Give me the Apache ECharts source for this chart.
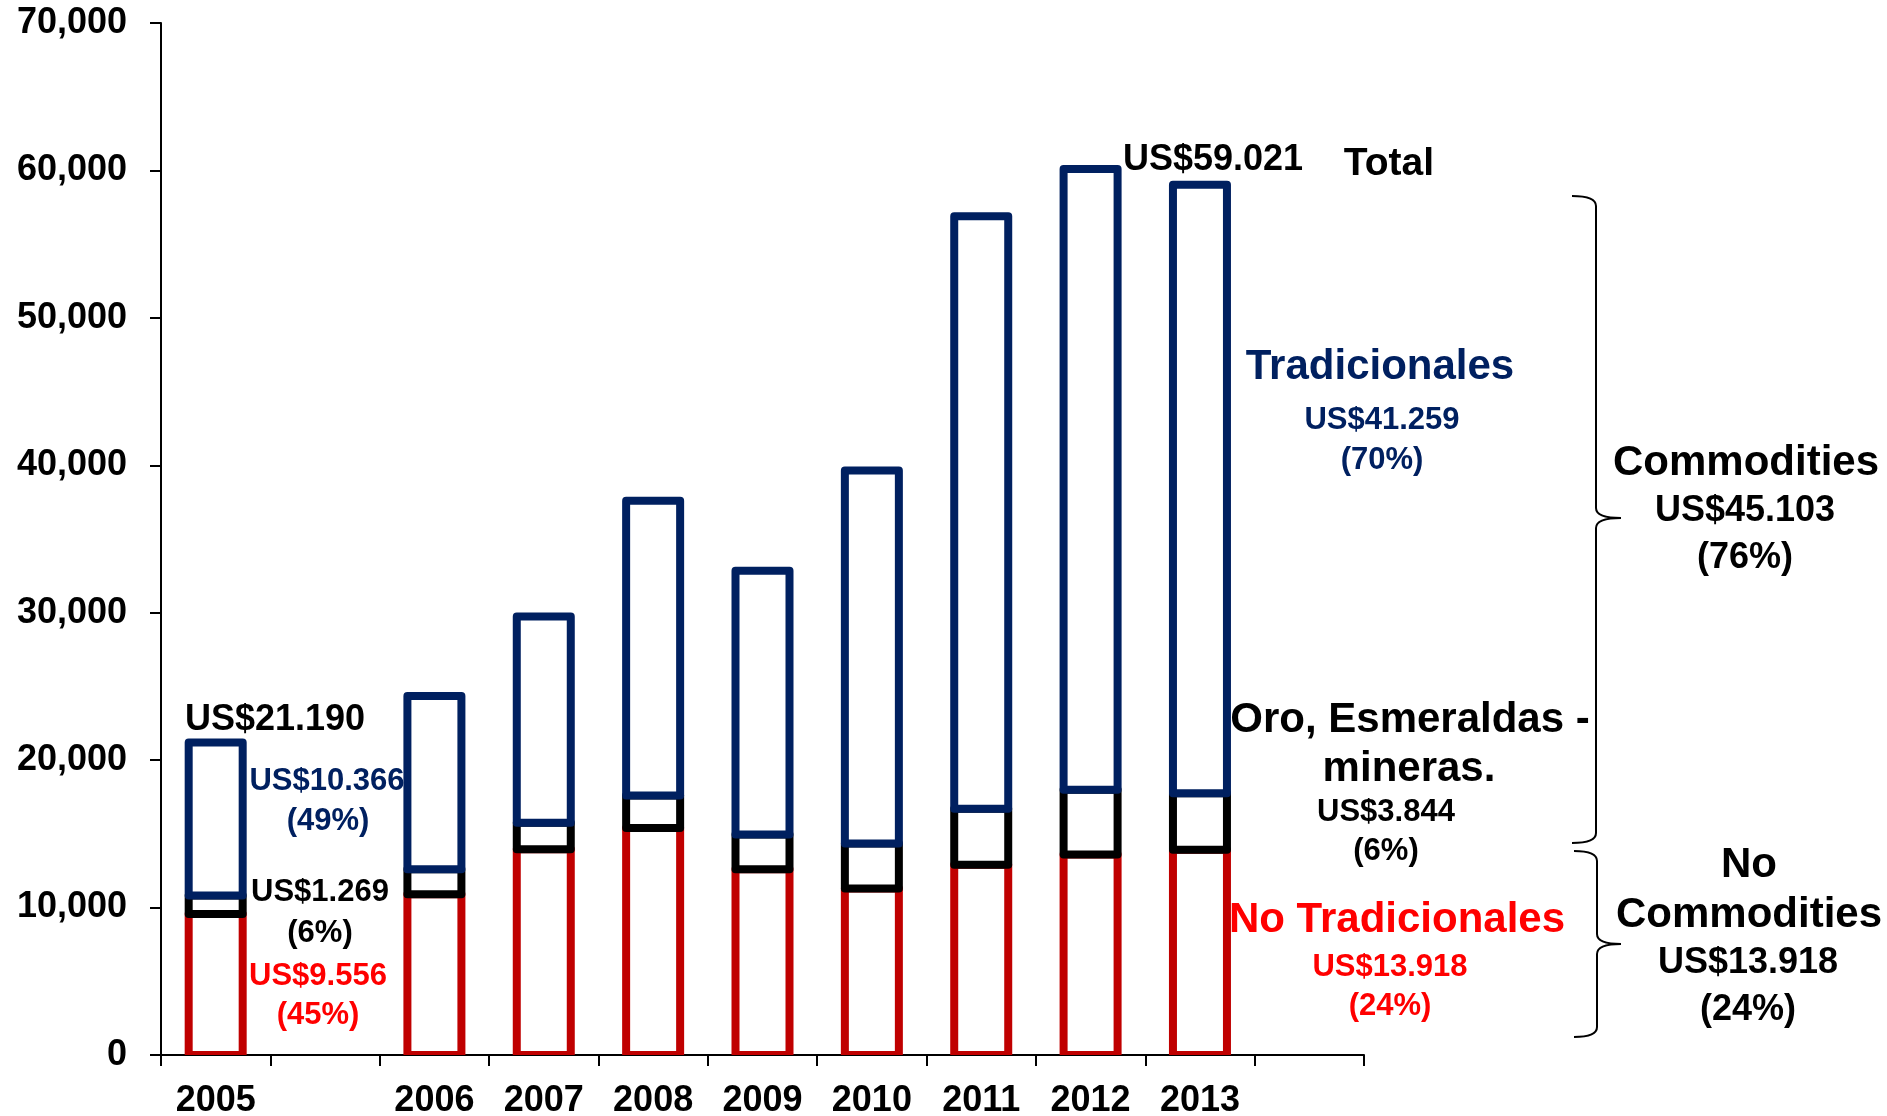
<!DOCTYPE html>
<html>
<head>
<meta charset="utf-8">
<script src="https://cdn.jsdelivr.net/npm/echarts@6/dist/echarts.min.js"></script>
<style>
html,body{margin:0;padding:0;background:#fff;}
#chart{width:1887px;height:1116px;}
</style>
</head>
<body>
<div id="chart"></div>
<script>
// Categories (blank slots are the empty category positions on the axis)
const years = ['2005', '', '2006', '2007', '2008', '2009', '2010', '2011', '2012', '2013', ''];
// Series values (US$ millions)
const noTradicionales = [9556, null, 10900, 13950, 15400, 12600, 11300, 12900, 13600, 13918, null];
const oroEsmeraldas   = [1269, null, 1700, 1800, 2200, 2350, 3050, 3800, 4400, 3844, null];
const tradicionales   = [10366, null, 11750, 14000, 20000, 17900, 25300, 40200, 42100, 41259, null];
// Y axis ticks
const yMin = 0, yMax = 70000, yStep = 10000;

const FONT = "'Liberation Sans', Arial, sans-serif";
const NAVY = '#002060', RED_BAR = '#C00000', RED_TXT = '#FF0000';

const chart = echarts.init(document.getElementById('chart'));

// Stack the three series: each segment gets [categoryIndex, start, end]
const stackOrder = [noTradicionales, oroEsmeraldas, tradicionales];
const base = years.map(() => 0);
const stacked = stackOrder.map(arr => {
  const out = [];
  arr.forEach((v, i) => {
    if (v == null) return;
    out.push([i, base[i], base[i] + v]);
    base[i] += v;
  });
  return out;
});

function stackSeries(name, data, color) {
  return {
    name: name, type: 'custom', data: data, clip: true,
    encode: { x: 0, y: [1, 2] },
    renderItem: function (params, api) {
      const i = api.value(0);
      const pBottom = api.coord([i, api.value(1)]);
      const pTop = api.coord([i, api.value(2)]);
      const w = 54;
      return {
        type: 'rect',
        shape: { x: pBottom[0] - w / 2, y: pTop[1], width: w, height: pBottom[1] - pTop[1] },
        style: { fill: '#ffffff', stroke: color, lineWidth: 8, lineJoin: 'round' }
      };
    },
    animation: false
  };
}

const TY = 3; // small vertical adjustment for annotation text
function txt(text, x, y, size, color) {
  return {
    type: 'text', z: 1,
    style: {
      text: text, x: x, y: y + TY,
      font: 'bold ' + size + 'px ' + FONT,
      fill: color,
      textAlign: 'center', textVerticalAlign: 'middle',
      align: 'center', verticalAlign: 'middle'
    }
  };
}

function seg(shape, type) {
  return { type: type, shape: shape, style: { fill: null, stroke: '#000', lineWidth: 2 } };
}

function brace(x0, xv, xTip, yTop, yMid, yBot) {
  const r = 10;
  return {
    type: 'group', z: 1,
    children: [
      seg({ x1: x0, y1: yTop, cpx1: xv, cpy1: yTop, x2: xv, y2: yTop + r }, 'bezierCurve'),
      seg({ x1: xv, y1: yTop + r, x2: xv, y2: yMid - r }, 'line'),
      seg({ x1: xv, y1: yMid - r, cpx1: xv, cpy1: yMid, x2: xTip, y2: yMid }, 'bezierCurve'),
      seg({ x1: xTip, y1: yMid, cpx1: xv, cpy1: yMid, x2: xv, y2: yMid + r }, 'bezierCurve'),
      seg({ x1: xv, y1: yMid + r, x2: xv, y2: yBot - r }, 'line'),
      seg({ x1: xv, y1: yBot - r, cpx1: xv, cpy1: yBot, x2: x0, y2: yBot }, 'bezierCurve')
    ]
  };
}

const option = {
  backgroundColor: '#ffffff',
  animation: false,
  grid: { left: 161, right: 523, top: 23, bottom: 61, containLabel: false, outerBoundsMode: 'none' },
  xAxis: {
    type: 'category',
    data: years,
    boundaryGap: true,
    axisLine: { lineStyle: { color: '#000', width: 2 } },
    axisTick: { show: true, interval: 0, length: 11, inside: false, lineStyle: { color: '#000', width: 2 } },
    axisLabel: { interval: 0, margin: 28, color: '#000', fontWeight: 'bold', fontSize: 36, fontFamily: FONT }
  },
  yAxis: {
    type: 'value',
    min: yMin, max: yMax, interval: yStep,
    splitLine: { show: false },
    axisLine: { show: true, lineStyle: { color: '#000', width: 2 } },
    axisTick: { show: true, length: 11, lineStyle: { color: '#000', width: 2 } },
    axisLabel: {
      margin: 34, color: '#000', fontWeight: 'bold', fontSize: 36, fontFamily: FONT,
      formatter: function (v) { return v.toLocaleString('en-US'); }
    }
  },
  series: [
    stackSeries('No Tradicionales', stacked[0], RED_BAR),
    stackSeries('Oro, Esmeraldas - mineras', stacked[1], '#000000'),
    stackSeries('Tradicionales', stacked[2], NAVY)
  ],
  graphic: [
    txt('US$21.190', 275, 717, 36, '#000'),
    txt('US$10.366', 327, 778, 31, NAVY),
    txt('(49%)', 328, 818, 31, NAVY),
    txt('US$1.269', 320, 889, 31, '#000'),
    txt('(6%)', 320, 930, 31, '#000'),
    txt('US$9.556', 318, 973, 31, RED_TXT),
    txt('(45%)', 318, 1012, 31, RED_TXT),
    txt('US$59.021', 1213, 157, 36, '#000'),
    txt('Total', 1389, 161, 39, '#000'),
    txt('Tradicionales', 1380, 364, 42, NAVY),
    txt('US$41.259', 1382, 417, 31, NAVY),
    txt('(70%)', 1382, 457, 31, NAVY),
    txt('Commodities', 1746, 460, 42, '#000'),
    txt('US$45.103', 1745, 508, 36, '#000'),
    txt('(76%)', 1745, 555, 36, '#000'),
    txt('Oro, Esmeraldas -', 1410, 717, 42, '#000'),
    txt('mineras.', 1409, 766, 42, '#000'),
    txt('US$3.844', 1386, 809, 31, '#000'),
    txt('(6%)', 1386, 848, 31, '#000'),
    txt('No Tradicionales', 1397, 917, 42, RED_TXT),
    txt('US$13.918', 1390, 964, 31, RED_TXT),
    txt('(24%)', 1390, 1003, 31, RED_TXT),
    txt('No', 1749, 862, 42, '#000'),
    txt('Commodities', 1749, 912, 42, '#000'),
    txt('US$13.918', 1748, 960, 36, '#000'),
    txt('(24%)', 1748, 1007, 36, '#000'),
    brace(1572, 1596, 1621, 196, 518, 843),
    brace(1574, 1597, 1621, 851, 944, 1037)
  ]
};
chart.setOption(option);
</script>
</body>
</html>
